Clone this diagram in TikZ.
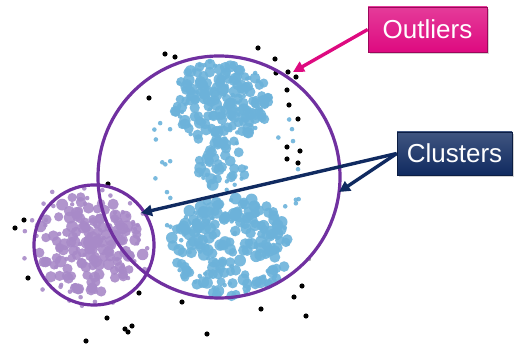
\documentclass[tikz,border=0pt]{standalone}
\usepackage{fontspec}
\setmainfont{Liberation Sans}
\usetikzlibrary{arrows.meta,shadows}
\definecolor{ringpurple}{RGB}{112,48,160}
\definecolor{dotblue}{RGB}{108,178,218}
\definecolor{dotlilac}{RGB}{168,138,200}
\definecolor{tagpink}{RGB}{222,10,128}
\definecolor{tagnavy}{RGB}{16,42,96}

\begin{document}
\begin{tikzpicture}[
    x=1pt, y=-1pt,
    ring/.style={circle, draw=ringpurple, line width=3.2pt, inner sep=0pt},
    labelbox/.style={rectangle, draw=#1!70!black, line width=0.6pt, top color=#1!80!white, bottom color=#1, text=white, font=\fontsize{26}{30}\selectfont, drop shadow={opacity=0.35, shadow xshift=2pt, shadow yshift=-2pt}},
    arrow/.style={line width=3.4pt, -{Triangle[length=11pt,width=11pt]}},
    bluedot/.style={fill=dotblue, fill opacity=0.9},
    lilacdot/.style={fill=dotlilac, fill opacity=0.9},
    outdot/.style={fill=black}
]
    \useasboundingbox (0,0) rectangle (515,347);

    % Blue clusters (top blob, neck, bottom blob)
    \pgfmathsetseed{42}
    \foreach \cx/\cy/\rx/\ry/\n in {221/102/48/42/190, 222/165/24/28/50, 231/246/60/50/220}{
        \foreach \i in {1,...,\n}{
            \pgfmathsetmacro\ang{360*rnd}
            \pgfmathsetmacro\rad{sqrt(rnd)}
            \pgfmathsetmacro\px{\cx+\rx*\rad*cos(\ang)}
            \pgfmathsetmacro\py{\cy+\ry*\rad*sin(\ang)}
            \pgfmathsetmacro\sz{rnd<0.2 ? 2.2 : 4.2+1.8*rnd}
            \fill[bluedot] (\px,\py) circle (\sz pt);
        }
    }
    % Sparse blue dots around
    \foreach \i in {1,...,45}{
        \pgfmathsetmacro\ang{360*rnd}
        \pgfmathsetmacro\rad{0.6+0.4*sqrt(rnd)}
        \pgfmathsetmacro\px{225+78*\rad*cos(\ang)}
        \pgfmathsetmacro\py{178+120*\rad*sin(\ang)}
        \fill[bluedot] (\px,\py) circle (2.3pt);
    }

    % Lilac cluster
    \foreach \i in {1,...,190}{
        \pgfmathsetmacro\ang{360*rnd}
        \pgfmathsetmacro\rad{rnd^0.75}
        \pgfmathsetmacro\px{90+55*\rad*cos(\ang)}
        \pgfmathsetmacro\py{243+50*\rad*sin(\ang)}
        \pgfmathsetmacro\sz{rnd<0.2 ? 2.2 : 4.2+1.8*rnd}
        \fill[lilacdot] (\px,\py) circle (\sz pt);
    }
    \foreach \i in {1,...,30}{
        \pgfmathsetmacro\ang{360*rnd}
        \pgfmathsetmacro\rad{0.75+0.35*rnd}
        \pgfmathsetmacro\px{90+62*\rad*cos(\ang)}
        \pgfmathsetmacro\py{245+58*\rad*sin(\ang)}
        \fill[lilacdot] (\px,\py) circle (2.3pt);
    }

    % Outlier points
    \foreach \p in {(165,54),(175,57),(258,48),(275,59),(276,73),(288,72),(296,77),
                    (287,90),(289,105),(298,119),(287,147),(300,151),(287,159),(298,163),
                    (149,98),(108,184),(24,220),(15,228),(28,278),(139,293),(182,302),
                    (261,309),(294,297),(302,286),(306,316),(107,318),(125,329),
                    (128,332),(132,326),(207,334),(86,341)}{
        \fill[outdot] \p circle (2.6pt);
    }
    \fill[black!35] (309,259) circle (2.2pt);

    % Cluster rings
    \node[ring, minimum size=242pt] (bigring) at (219,177) {};
    \node[ring, minimum size=120pt] (smallring) at (94,245) {};

    % Labels
    \node[labelbox=tagpink, minimum width=119pt, minimum height=45pt] (outliers) at (427.5,29.5) {Outliers};
    \node[labelbox=tagnavy, minimum width=115pt, minimum height=43pt] (clusters) at (454.5,153.5) {Clusters};

    % Arrow targets
    \coordinate (outtip) at (293,72);
    \coordinate (tipsmall) at (141,213);
    \coordinate (tipbig) at (339,192);

    % Arrows
    \draw[arrow, tagpink] (outliers.west) -- (outtip);
    \draw[arrow, tagnavy] (clusters.west) -- (tipsmall);
    \draw[arrow, tagnavy] (clusters.west) -- (tipbig);
\end{tikzpicture}
\end{document}
